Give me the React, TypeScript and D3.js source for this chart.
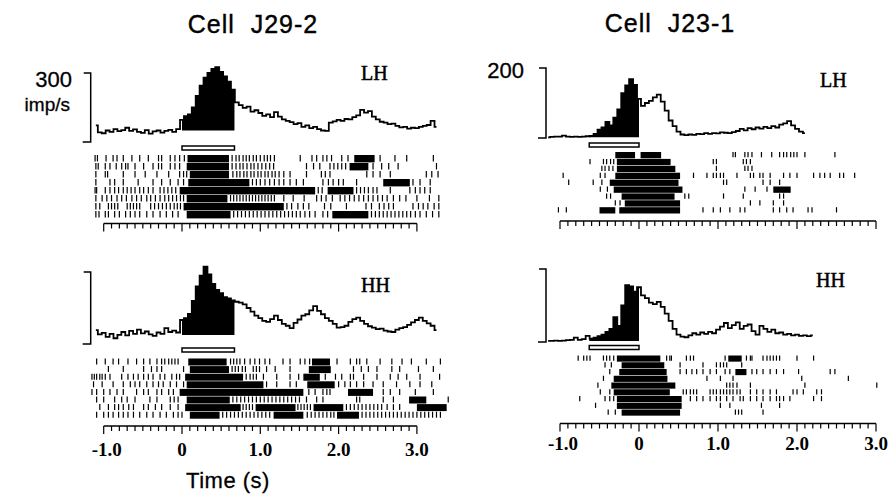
import React from 'react';
import * as d3 from 'd3';

// PSTH rate (imp/s), 50 ms bins
const binStep = 0.05;
const j29Start = -1.1;
const j23Start = -1.15;

const j29LH = [72, 42, 38, 50, 44, 56, 47, 52, 62, 48, 55, 44, 40, 52, 36, 46, 50, 41, 48, 53, 44, 56,
  96, 112, 120, 150, 200, 245, 280, 300, 318, 325, 305, 285, 262, 228, 172, 160, 148, 154, 132, 138,
  126, 114, 120, 108, 130, 110, 98, 92, 86, 78, 82, 66, 72, 60, 66, 56, 50, 48, 84, 90, 96, 92, 100,
  98, 108, 116, 140, 128, 134, 110, 98, 88, 84, 78, 80, 70, 64, 66, 58, 62, 60, 66, 70, 74, 92, 66];

const j29HH = [58, 40, 46, 30, 42, 24, 38, 50, 36, 55, 42, 60, 44, 52, 40, 34, 48, 42, 66, 50, 56, 48,
  100, 108, 125, 180, 240, 285, 322, 290, 250, 225, 212, 195, 190, 182, 176, 172, 165, 150, 135, 118,
  108, 96, 92, 104, 118, 100, 84, 76, 66, 88, 102, 118, 124, 140, 158, 138, 124, 108, 96, 84, 68, 70,
  76, 92, 104, 110, 96, 84, 74, 68, 62, 64, 56, 52, 50, 60, 66, 70, 80, 90, 100, 110, 96, 86, 76, 58];

const j23LH = [2, 3, 4, 4, 7, 4, 3, 4, 3, 4, 5, 6, 12, 24, 30, 46, 36, 58, 82, 128, 150, 168, 152,
  112, 92, 100, 106, 116, 124, 104, 78, 50, 34, 18, 10, 8, 10, 9, 12, 11, 14, 12, 14, 13, 16, 15, 14,
  17, 20, 26, 22, 28, 25, 30, 27, 32, 28, 34, 30, 38, 42, 48, 36, 26, 18, 14];

const j23HH = [3, 3, 4, 3, 4, 5, 6, 12, 6, 8, 17, 9, 12, 16, 20, 28, 36, 68, 44, 100, 156, 152, 138,
  150, 128, 120, 108, 104, 110, 96, 78, 58, 36, 20, 15, 13, 18, 24, 20, 26, 22, 28, 24, 34, 42, 52,
  38, 46, 54, 36, 44, 48, 30, 20, 44, 36, 28, 34, 24, 26, 20, 22, 18, 20, 17, 18, 16, 18];

// raster: spike times (s) per trial, and dense bursts [from, to]
const j29LHSpikes = [
  [-1.11, -1.08, -0.97, -0.88, -0.83, -0.75, -0.64, -0.54, -0.43, -0.30, -0.26, -0.15, -0.09, -0.03, 0.03, 0.64, 0.69, 0.73, 0.78, 0.82, 0.86, 0.91, 0.95, 1.00, 1.05, 1.09, 1.13, 1.18, 1.51, 1.66, 1.72, 1.80, 1.85, 1.91, 2.04, 2.12, 2.53, 2.72, 2.87, 3.21],
  [-1.10, -1.07, -0.98, -0.92, -0.84, -0.77, -0.72, -0.69, -0.60, -0.49, -0.37, -0.30, -0.26, -0.15, -0.09, -0.03, 0.64, 0.69, 0.74, 0.78, 0.83, 0.88, 0.92, 0.97, 1.02, 1.07, 1.12, 1.17, 1.59, 1.68, 1.76, 1.89, 1.94, 1.99, 2.04, 2.09, 2.44, 2.55, 2.64, 2.76, 3.25],
  [-1.10, -0.98, -0.95, -0.75, -0.60, -0.47, -0.32, -0.17, -0.03, 0.02, 0.06, 0.65, 0.70, 0.74, 0.79, 0.83, 0.88, 0.92, 0.97, 1.01, 1.06, 1.10, 1.15, 1.19, 1.24, 1.30, 1.38, 1.59, 1.78, 1.83, 1.89, 2.36, 2.44, 2.53, 2.66, 3.12, 3.19, 3.27],
  [-1.10, -0.92, -0.86, -0.75, -0.56, -0.37, -0.26, -0.15, -0.05, 0.02, 0.90, 0.95, 1.00, 1.06, 1.12, 1.18, 1.24, 1.30, 1.38, 1.46, 1.55, 1.80, 1.87, 1.93, 2.00, 2.06, 2.23, 2.95, 3.04, 3.17],
  [-1.11, -1.09, -0.98, -0.92, -0.86, -0.81, -0.75, -0.70, -0.65, -0.60, -0.54, -0.49, -0.43, -0.37, -0.28, -0.23, -0.18, -0.13, -0.08, 1.74, 1.79, 2.23, 2.28, 2.33, 2.38, 2.44, 2.49, 2.66, 2.91, 2.98, 3.04, 3.10, 3.17],
  [-1.10, -1.02, -0.96, -0.90, -0.83, -0.77, -0.71, -0.64, -0.58, -0.52, -0.45, -0.40, -0.34, -0.28, -0.22, -0.17, -0.12, -0.07, -0.02, 0.02, 0.62, 0.66, 0.70, 0.74, 0.78, 0.82, 0.86, 0.90, 0.94, 0.98, 1.02, 1.06, 1.10, 1.14, 1.18, 1.30, 1.42, 1.56, 1.72, 1.78, 1.84, 1.92, 2.02, 2.08, 2.14, 2.20, 2.26, 2.32, 2.38, 2.44, 2.50, 2.56, 2.62, 2.70, 2.78, 2.86, 3.00, 3.16, 3.28],
  [-1.10, -1.05, -0.94, -0.90, -0.86, -0.82, -0.70, -0.66, -0.62, -0.58, -0.54, -0.40, -0.35, -0.30, -0.25, -0.20, -0.15, -0.10, -0.06, -0.02, 1.34, 1.40, 1.48, 1.55, 1.62, 1.82, 1.90, 2.10, 2.35, 2.42, 2.52, 2.58, 2.64, 2.70, 2.95, 3.02, 3.08, 3.14, 3.22, 3.28],
  [-1.10, -1.06, -0.98, -0.94, -0.86, -0.80, -0.72, -0.66, -0.60, -0.54, -0.45, -0.37, -0.28, -0.20, -0.12, -0.05, 0.66, 0.71, 0.76, 0.81, 0.86, 0.91, 0.96, 1.01, 1.06, 1.11, 1.16, 1.21, 1.26, 1.31, 1.36, 1.41, 1.46, 1.51, 1.57, 1.63, 1.70, 1.80, 1.86, 2.42, 2.47, 2.52, 2.57, 2.62, 2.67, 2.72, 2.77, 2.82, 2.87, 2.92, 2.98, 3.04, 3.12, 3.20, 3.28],
];
const j29LHBursts = [
  [[0.07, 0.60], [2.20, 2.46]],
  [[0.06, 0.60], [2.14, 2.38]],
  [[0.10, 0.60]],
  [[0.08, 0.86], [2.57, 2.91]],
  [[-0.03, 1.70], [1.86, 2.19]],
  [[0.06, 0.58]],
  [[0.02, 1.30]],
  [[0.06, 0.62], [1.92, 2.38]],
];

const j29HHSpikes = [
  [-1.09, -0.98, -0.88, -0.81, -0.69, -0.58, -0.49, -0.41, -0.32, -0.26, -0.22, -0.17, -0.13, -0.09, -0.05, 0.62, 0.66, 0.70, 0.74, 0.80, 0.87, 0.93, 0.99, 1.06, 1.12, 1.29, 1.38, 1.51, 1.57, 1.63, 1.98, 2.15, 2.23, 2.27, 2.36, 2.53, 2.68, 2.81, 2.93, 3.12, 3.30],
  [-0.94, -0.75, -0.49, -0.39, -0.32, -0.26, 0.02, 0.64, 0.68, 0.72, 0.77, 0.81, 0.91, 0.95, 0.99, 1.08, 1.19, 1.38, 2.19, 2.29, 2.38, 2.49, 2.68, 2.78, 3.02, 3.21],
  [-1.15, -1.12, -1.09, -1.05, -1.02, -0.98, -0.92, -0.77, -0.69, -0.62, -0.56, -0.49, -0.43, -0.37, -0.28, -0.22, -0.13, -0.07, -0.03, 0.82, 0.87, 0.91, 0.95, 1.04, 1.21, 1.38, 1.49, 1.83, 1.96, 2.04, 2.15, 2.19, 2.32, 2.49, 2.66, 2.76, 2.87, 3.04, 3.29],
  [-1.13, -1.02, -0.88, -0.75, -0.66, -0.60, -0.54, -0.45, -0.37, -0.30, -0.24, -0.15, -0.07, 0.02, 1.08, 1.21, 1.38, 1.46, 2.00, 2.08, 2.15, 2.23, 2.32, 2.44, 2.57, 2.74, 2.91, 3.04, 3.19],
  [-1.15, -1.09, -1.00, -0.92, -0.83, -0.75, -0.58, -0.49, -0.43, -0.32, -0.26, -0.17, -0.11, 1.62, 1.70, 1.80, 1.85, 1.89, 2.57, 2.66, 2.78, 2.98, 3.21],
  [-1.09, -1.00, -0.86, -0.77, -0.70, -0.60, -0.41, -0.32, -0.15, -0.10, -0.05, 0.65, 0.70, 0.75, 0.80, 0.85, 0.90, 0.95, 1.00, 1.05, 1.10, 1.15, 1.20, 1.25, 1.30, 1.35, 1.40, 1.45, 1.50, 1.59, 1.72, 1.80, 2.23, 2.27, 2.57, 2.70, 3.40],
  [-1.05, -0.94, -0.86, -0.81, -0.75, -0.68, -0.62, -0.49, -0.43, -0.34, -0.26, -0.15, -0.05, 0.78, 0.82, 0.86, 0.90, 1.48, 1.52, 1.56, 1.60, 1.64, 2.10, 2.15, 2.20, 2.25, 2.30, 2.35, 2.40, 2.45, 2.50, 2.55, 2.62, 2.70, 2.78],
  [-1.09, -1.00, -0.94, -0.88, -0.81, -0.75, -0.69, -0.62, -0.54, -0.45, -0.37, -0.28, -0.20, -0.11, -0.05, 0.00, 0.52, 0.57, 0.62, 0.67, 0.72, 0.77, 0.82, 0.87, 0.92, 0.97, 1.02, 1.07, 1.12, 1.60, 1.65, 1.70, 1.75, 1.80, 1.85, 1.90, 1.94, 2.30, 2.35, 2.40, 2.45, 2.50, 2.55, 2.60, 2.65, 2.70, 2.75, 2.80, 2.85, 2.90, 2.95, 3.00, 3.05, 3.10, 3.15, 3.20, 3.25, 3.30],
];
const j29HHBursts = [
  [[0.08, 0.57], [1.66, 1.89]],
  [[0.10, 0.60], [1.62, 1.90]],
  [[0.04, 0.78], [1.55, 1.76]],
  [[0.06, 1.04], [1.60, 1.95]],
  [[-0.03, 1.55], [2.12, 2.44]],
  [[0.06, 0.61], [2.90, 3.12]],
  [[0.04, 0.75], [0.94, 1.45], [1.68, 2.06], [3.00, 3.38]],
  [[0.10, 0.48], [1.17, 1.55], [1.98, 2.26]],
];

const j23LHSpikes = [
  [1.19, 1.22, 1.34, 1.38, 1.43, 1.55, 1.68, 1.78, 1.83, 1.87, 1.92, 1.96, 2.00, 2.10, 2.48],
  [-0.62, -0.45, -0.41, -0.36, -0.32, 0.94, 0.98, 1.32, 1.36, 1.41],
  [-0.47, -0.43, -0.38, -0.33, 0.98, 1.34, 1.38, 1.43],
  [-0.96, -0.49, -0.43, 0.69, 0.86, 0.94, 0.98, 1.03, 1.07, 1.24, 1.41, 1.45, 1.53, 1.57, 1.66, 1.83, 1.91, 2.00, 2.21, 2.29, 2.35, 2.42, 2.54, 2.59, 2.73],
  [-0.89, -0.58, -0.47, 1.07, 1.11, 1.57, 1.66, 1.78],
  [-0.49, -0.40, 1.34, 1.47, 1.62],
  [-0.41, -0.36, 0.58, 0.63, 1.07, 1.32, 1.78, 1.83],
  [-0.30, -0.24, 1.41, 1.53, 1.70, 1.83],
  [-1.02, -0.92, 0.81, 0.94, 1.03, 1.15, 1.28, 1.34, 1.70, 1.78, 1.87, 1.95, 2.14, 2.19, 2.50],
];
const j23LHBursts = [
  [[-0.30, -0.05], [0.02, 0.28]],
  [[-0.28, 0.40]],
  [[-0.28, 0.46]],
  [[-0.30, 0.52]],
  [[-0.37, 0.50]],
  [[-0.32, 0.55], [1.70, 1.92]],
  [[-0.22, 0.45]],
  [[-0.18, 0.52]],
  [[-0.50, -0.30], [-0.25, 0.52]],
];

const j23HHSpikes = [
  [-0.77, -0.70, -0.66, -0.62, -0.45, -0.41, -0.37, -0.32, 0.35, 0.39, 0.41, 0.60, 0.65, 0.69, 1.09, 1.36, 1.41, 1.43, 1.57, 1.62, 1.66, 1.70, 1.74, 1.78, 2.00, 2.21],
  [-0.43, -0.35, 0.52, 0.81, 0.98, 1.03, 1.07, 1.11, 1.30],
  [-0.37, 0.52, 0.60, 0.67, 0.73, 0.81, 0.90, 0.98, 1.09, 1.15, 1.43, 1.49, 1.57, 1.66, 1.74, 1.83, 2.02, 2.42, 2.48],
  [-0.45, 0.86, 1.03, 1.19, 2.06, 2.65],
  [-0.52, 1.11, 1.15, 1.19, 1.24, 1.41, 2.10, 3.01],
  [-0.49, -0.37, 0.56, 0.60, 0.65, 0.69, 0.73, 0.90, 0.94, 0.98, 1.03, 1.07, 1.11, 1.15, 1.19, 1.24, 1.28, 1.41, 1.49, 1.57, 1.66, 1.74, 1.95, 2.00, 2.08, 2.25, 2.31],
  [-0.75, -0.43, -0.37, -0.32, 0.65, 0.73, 0.81, 0.90, 0.98, 1.03, 1.11, 1.19, 1.28, 1.32, 1.41, 1.49, 1.57, 1.66, 1.74, 1.78, 1.83, 1.91, 2.21, 2.31],
  [-0.55, 1.03, 1.15, 1.55, 1.78],
  [-0.39, -0.30, 1.22, 1.26, 1.30, 1.57],
];
const j23HHBursts = [
  [[-0.28, 0.27], [1.13, 1.30]],
  [[-0.22, 0.32]],
  [[-0.25, 0.35], [1.22, 1.36]],
  [[-0.32, 0.36]],
  [[-0.35, 0.46]],
  [[-0.32, 0.39]],
  [[-0.28, 0.54]],
  [[-0.28, 0.54]],
  [[-0.22, 0.52]],
];

const tickValues = [-1, 0, 1, 2, 3];
const tickLabels = ['-1.0', '0', '1.0', '2.0', '3.0'];

const sans = 'Liberation Sans, Arial, sans-serif';
const serif = 'Liberation Serif, Times New Roman, serif';

function Panel(p: any) {
  const x = d3.scaleLinear().domain([-1, 3]).range([p.x0 - p.pps, p.x0 + 3 * p.pps]);
  const y = d3.scaleLinear().domain([0, p.vmax]).range([p.yBottom, p.yTop]);
  const pts: [number, number][] = p.values.map((v: number, i: number) => [p.start + i * binStep, v]);
  const line = d3.line<[number, number]>().x(d => x(d[0])).y(d => y(d[1])).curve(d3.curveStep);
  const area = d3.area<[number, number]>().x(d => x(d[0])).y0(y(p.base)).y1(d => y(d[1])).curve(d3.curveStep);
  const minor = x.ticks(40);
  const [s0, s1] = p.stim;
  const tickH = p.rowGap - 0.6;

  return (
    <g>
      <defs>
        <clipPath id={p.id}>
          <rect x={x(s0)} y={0} width={x(s1) - x(s0)} height={494} />
        </clipPath>
      </defs>
      {/* scale bracket */}
      <path d={`M${p.bracketX - 7},${p.yTop} H${p.bracketX} V${p.yBottom} H${p.bracketX - 8}`}
        fill="none" stroke="#000" strokeWidth={1.5} />
      {/* PSTH */}
      <path d={area(pts) || ''} fill="#000" clipPath={`url(#${p.id})`} />
      <path d={line(pts) || ''} fill="none" stroke="#000" strokeWidth={1.8} />
      {/* stimulus bar */}
      <rect x={x(s0)} y={p.stimY} width={x(s1) - x(s0)} height={4} fill="#fff" stroke="#000" strokeWidth={1.5} />
      {/* raster */}
      {p.spikes.map((row: number[], i: number) => {
        const ry = p.rasterTop + i * p.rowGap;
        return (
          <g key={i}>
            {row.map((t, j) => (
              <line key={j} x1={x(t)} x2={x(t)} y1={ry} y2={ry + tickH - 1} stroke="#000" strokeWidth={1.2} />
            ))}
            {p.bursts[i].map((b: number[], j: number) => (
              <rect key={'b' + j} x={x(b[0])} y={ry} width={x(b[1]) - x(b[0])} height={tickH} fill="#000" />
            ))}
          </g>
        );
      })}
      {/* time axis */}
      <line x1={x(-1)} x2={x(3)} y1={p.axisY} y2={p.axisY} stroke="#000" strokeWidth={1.5} />
      {minor.map((t, i) => {
        const major = Math.abs(t - Math.round(t)) < 1e-6;
        return (
          <line key={i} x1={x(t)} x2={x(t)} y1={p.axisY} y2={p.axisY + (major ? 8 : 5)} stroke="#000" strokeWidth={1.2} />
        );
      })}
      {p.showLabels && tickValues.map((t, i) => (
        <text key={i} x={x(t) + (t < 0 ? 3 : 0)} y={p.labelY} textAnchor="middle" fontFamily={serif}
          fontWeight="bold" fontSize={19}>{tickLabels[i]}</text>
      ))}
      <text x={p.condX} y={p.condY} fontFamily={serif} fontSize={20} stroke="#000" strokeWidth={0.5}>{p.cond}</text>
    </g>
  );
}

export default function App() {
  return (
    <div>
      <style>{'body{margin:0;background:#fff}'}</style>
      <svg width={894} height={494} style={{ display: 'block' }}>
        <rect width={894} height={494} fill="#fff" />
        <text x={253} y={33} textAnchor="middle" fontFamily={sans} fontSize={25} letterSpacing={1}
          stroke="#000" strokeWidth={0.4} style={{ whiteSpace: 'pre' }}>{'Cell  J29-2'}</text>
        <text x={670} y={32} textAnchor="middle" fontFamily={sans} fontSize={25} letterSpacing={1}
          stroke="#000" strokeWidth={0.4} style={{ whiteSpace: 'pre' }}>{'Cell  J23-1'}</text>
        <text x={72} y={87} textAnchor="end" fontFamily={sans} fontSize={22} stroke="#000" strokeWidth={0.3}>300</text>
        <text x={70} y={111} textAnchor="end" fontFamily={sans} fontSize={19} stroke="#000" strokeWidth={0.3}>imp/s</text>
        <text x={524} y={78} textAnchor="end" fontFamily={sans} fontSize={22} stroke="#000" strokeWidth={0.3}>200</text>
        <text x={228} y={488} textAnchor="middle" fontFamily={sans} fontSize={22} letterSpacing={0.5}
          stroke="#000" strokeWidth={0.3}>Time (s)</text>

        <Panel id="c1" x0={182} pps={78.3} vmax={300} yTop={73} yBottom={142} start={j29Start} values={j29LH}
          stim={[0, 0.67]} base={50} stimY={146} spikes={j29LHSpikes} bursts={j29LHBursts}
          rasterTop={155} rowGap={8} axisY={223.5} showLabels={false} labelY={0}
          bracketX={90.7} cond="LH" condX={361} condY={80} />
        <Panel id="c2" x0={182} pps={78.3} vmax={300} yTop={272} yBottom={344} start={j29Start} values={j29HH}
          stim={[0, 0.67]} base={37} stimY={348} spikes={j29HHSpikes} bursts={j29HHBursts}
          rasterTop={358.5} rowGap={7.6} axisY={426} showLabels={true} labelY={456}
          bracketX={90.7} cond="HH" condX={361} condY={292} />
        <Panel id="c3" x0={639} pps={79} vmax={200} yTop={68} yBottom={138} start={j23Start} values={j23LH}
          stim={[-0.63, 0]} base={2} stimY={143} spikes={j23LHSpikes} bursts={j23LHBursts}
          rasterTop={152} rowGap={6.9} axisY={221} showLabels={false} labelY={0}
          bracketX={546} cond="LH" condX={820} condY={87} />
        <Panel id="c4" x0={639} pps={79} vmax={200} yTop={269} yBottom={342} start={j23Start} values={j23HH}
          stim={[-0.63, 0]} base={3} stimY={345.5} spikes={j23HHSpikes} bursts={j23HHBursts}
          rasterTop={355.5} rowGap={6.75} axisY={423.5} showLabels={true} labelY={450}
          bracketX={546} cond="HH" condX={816} condY={287} />
      </svg>
    </div>
  );
}
